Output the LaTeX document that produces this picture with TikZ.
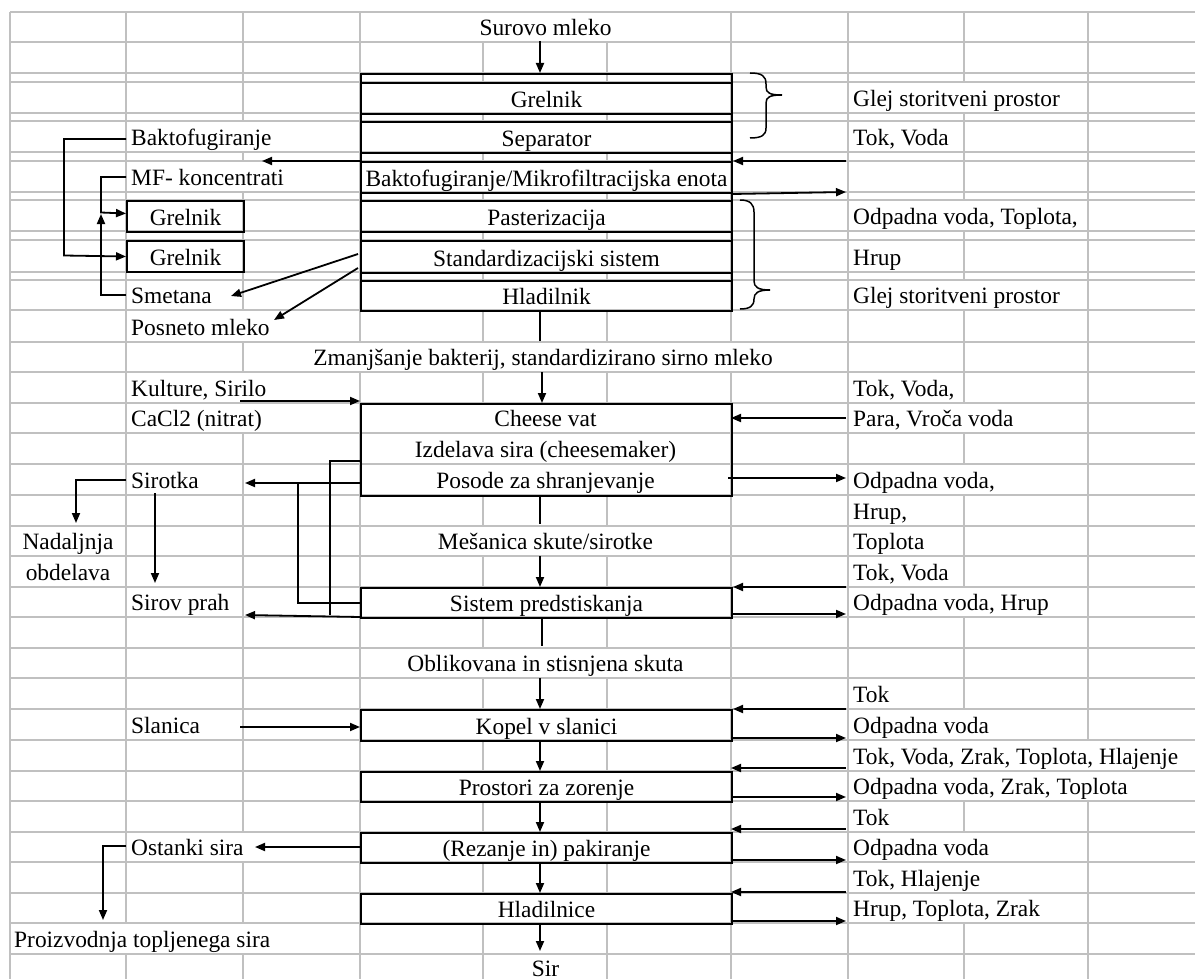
\documentclass[tikz,border=0pt]{standalone}
\usepackage{fontspec}
\setmainfont{Liberation Serif}
\usetikzlibrary{arrows.meta}
\definecolor{gridgray}{RGB}{192,192,192}
\newcommand{\cellfont}{\fontsize{23.4}{28}\selectfont}
\begin{document}
\begin{tikzpicture}[x=1pt,y=-1pt,
  every node/.style={font=\cellfont, inner sep=0pt},
  gridline/.style={draw=gridgray, line width=1.3pt},
  procbox/.style={draw, line width=2pt, minimum width=371pt, text height=#1, text depth=6.5pt, anchor=north west},
  procbox/.default=24.5pt,
  sidebox/.style={draw, line width=2pt, minimum width=117pt, text height=24.5pt, text depth=6.5pt, anchor=north west},
  txt/.style={anchor=base west},
  mid/.style={anchor=base},
  flow/.style={draw, line width=1.8pt, -{Triangle[length=10pt,width=8pt]}},
  link/.style={draw, line width=1.8pt},
  brace/.style={draw, line width=1.5pt}]

\clip (0,0) rectangle (1195,979);
\fill[white] (0,0) rectangle (1195,979);

% spreadsheet grid: row lines
\foreach \y in {12,42,73,82,113,121,152,161,192,200,231,240,272,280,310,342,372,403,433,464,495,526,556,587,617,648,678,709,740,771,801,832,862,893,923,954}
  \draw[gridline] (10,\y) -- (1195,\y);

% column lines, row by row (hidden where text overflows or cells are merged)
\foreach \t/\b/\xs in {
  12/42/{10,126,243,360,731,848,964,1088},
  42/73/{10,126,243,360,483,607,731,848,964,1088},
  73/82/{10,126,243,360,483,607,731,848,964,1088},
  82/113/{10,126,243,360,731,848,1088},
  113/121/{10,126,243,360,483,607,731,848,964,1088},
  121/152/{10,126,360,731,848,964,1088},
  152/161/{10,126,243,360,483,607,731,848,964,1088},
  161/192/{10,126,360,731,848,964,1088},
  192/200/{10,126,243,360,483,607,731,848,964,1088},
  200/231/{10,126,243,360,731,848,1088},
  231/240/{10,126,243,360,483,607,731,848,964,1088},
  240/272/{10,126,243,360,731,848,964,1088},
  272/280/{10,126,243,360,483,607,731,848,964,1088},
  280/310/{10,126,243,360,731,848,1088},
  310/342/{10,126,360,483,607,731,848,964,1088},
  342/372/{10,126,243,848,964,1088},
  372/403/{10,126,360,483,607,731,848,964,1088},
  403/433/{10,126,360,731,848,1088},
  433/464/{10,126,243,360,731,848,964,1088},
  464/495/{10,126,243,360,731,848,1088},
  495/526/{10,126,243,360,483,607,731,848,964,1088},
  526/556/{10,126,243,360,731,848,964,1088},
  556/587/{10,126,243,360,483,607,731,848,964,1088},
  587/617/{10,126,243,360,731,848,1088},
  617/648/{10,126,243,360,483,607,731,848,964,1088},
  648/678/{10,126,243,360,731,848,964,1088},
  678/709/{10,126,243,360,483,607,731,848,964,1088},
  709/740/{10,126,243,360,731,848,1088},
  740/771/{10,126,243,360,483,607,731,848},
  771/801/{10,126,243,360,731,848},
  801/832/{10,126,243,360,483,607,731,848,964,1088},
  832/862/{10,126,360,731,848,1088},
  862/893/{10,126,243,360,483,607,731,848,1088},
  893/923/{10,126,243,360,731,848,1088},
  923/954/{10,360,483,607,731,848,964,1088},
  954/979/{10,126,243,360,483,607,731,848,964,1088}}
  {\foreach \x in \xs {\draw[gridline] (\x,\t) -- (\x,\b);}}

% ---------- milk treatment block ----------
\node[draw, line width=2pt, minimum width=371pt, minimum height=237pt, anchor=north west] (frame) at (360,73) {};
\node[procbox] (grel) at (360,82) {Grelnik};
\node[procbox] (sep) at (360,121) {Separator};
\node[procbox] (bakto) at (360,161) {Baktofugiranje/Mikrofiltracijska enota};
\node[procbox] (past) at (360,200) {Pasterizacija};
\node[procbox=25.5pt] (std) at (360,240) {Standardizacijski sistem};
\node[procbox=23.5pt] (hlad) at (360,280) {Hladilnik};

\node[sidebox] (grelA) at (126,200) {Grelnik};
\node[sidebox] (grelB) at (126,240) {Grelnik};

\node[mid] (surovo) at (545.5,35.5) {Surovo mleko};

\node[txt] (lbBakto) at (131,145.5) {Baktofugiranje};
\node[txt] (lbMF) at (131,185.5) {MF- koncentrati};
\node[txt] (lbSmet) at (131,303.5) {Smetana};
\node[txt] (lbPosn) at (131,335.5) {Posneto mleko};

\node[txt] (rGlejA) at (853,106.5) {Glej storitveni prostor};
\node[txt] (rTokA) at (853,145.5) {Tok, Voda};
\node[txt] (rOdpA) at (853,224.5) {Odpadna voda, Toplota,};
\node[txt] (rHrupA) at (853,265.5) {Hrup};
\node[txt] (rGlejB) at (853,303.5) {Glej storitveni prostor};

% braces
\draw[brace] (750,73) .. controls (762,73) and (766,76) .. (766,84) -- (766,87)
  .. controls (766,93) and (770,95) .. (782,95)
  .. controls (770,95) and (766,97) .. (766,103) -- (766,128)
  .. controls (766,135) and (762,138) .. (750,138);
\draw[brace] (740,200) .. controls (750,200) and (754,204) .. (754,212) -- (754,281)
  .. controls (754,287) and (758,290) .. (770,290)
  .. controls (758,290) and (754,293) .. (754,299)
  .. controls (754,306) and (750,309) .. (740,309);

% connectors of the upper block
\draw[flow] (540,41) -- (frame.north -| 540,0);
\draw[flow] (846,161) -- (bakto.north east);
\draw[flow] (bakto.south east) -- (846,192);
\draw[flow] (bakto.north west) -- (262,161);
\draw[flow] (126,139) -- (64,139) -- (64,255.5) -- (grelB.west);
\draw[flow] (126,177) -- (101,177) -- (101,212.5) -- ([yshift=3pt]grelA.west);
\draw[flow] (126,295) -- (101,295) -- (101,214);
\draw[flow] (358,254) -- (231,296);
\draw[flow] (358,268) -- (274,320);
\draw[link] (hlad.south -| 540,0) -- (540,341);

% ---------- cheese making ----------
\node[mid] (zmanj) at (543,365.5) {Zmanjšanje bakterij, standardizirano sirno mleko};
\node[draw, line width=2pt, minimum width=371pt, minimum height=92pt, anchor=north west] (vat) at (360,403) {};
\node[mid] (vatA) at (545.5,426.5) {Cheese vat};
\node[mid] (vatB) at (545.5,457.5) {Izdelava sira (cheesemaker)};
\node[mid] (vatC) at (545.5,488.5) {Posode za shranjevanje};
\node[mid] (mesan) at (545.5,549.5) {Mešanica skute/sirotke};
\node[procbox=23.5pt] (sist) at (360,587) {Sistem predstiskanja};

\node[txt] (lbKult) at (131,396.5) {Kulture, Sirilo};
\node[txt] (lbCa) at (131,426.5) {CaCl2 (nitrat)};
\node[txt] (lbSir) at (131,488.5) {Sirotka};
\node[txt] (lbPrah) at (131,610.5) {Sirov prah};
\node[mid] (lbNad) at (68,549.5) {Nadaljnja};
\node[mid] (lbObd) at (68,580.5) {obdelava};

\node[txt] (rTokB) at (853,396.5) {Tok, Voda,};
\node[txt] (rPara) at (853,426.5) {Para, Vroča voda};
\node[txt] (rOdpB) at (853,488.5) {Odpadna voda,};
\node[txt] (rHrupB) at (853,519.5) {Hrup,};
\node[txt] (rTopl) at (853,549.5) {Toplota};
\node[txt] (rTokC) at (853,580.5) {Tok, Voda};
\node[txt] (rOdpC) at (853,610.5) {Odpadna voda, Hrup};

\draw[flow] (542,372) -- (vat.north -| 542,0);
\draw[flow] (240,401) -- (360,401);
\draw[flow] (846,418) -- (731,418);
\draw[flow] (728,478) -- (846,478);
\draw[flow] (360,483) -- (245,483);
\draw[link] (360,461) -- (330,461) -- (330,615);
\draw[link] (360,603) -- (298,603) -- (298,483);
\draw[flow] (sist.south west) ++(0,-2) -- (245,615);
\draw[flow] (126,480) -- (76,480) -- (76,523);
\draw[flow] (155,493) -- (155,583);
\draw[link] (vat.south -| 540,0) -- (540,524);
\draw[flow] (540,556) -- (sist.north -| 540,0);
\draw[flow] (846,587) -- (sist.north east);
\draw[flow] (731,614) -- (846,614);
\draw[link] (sist.south -| 542,0) -- (542,646);

% ---------- brining, ripening, packing ----------
\node[mid] (oblik) at (545.5,671.5) {Oblikovana in stisnjena skuta};
\node[procbox] (kopel) at (360,709) {Kopel v slanici};
\node[procbox=23.5pt] (zor) at (360,771) {Prostori za zorenje};
\node[procbox=23.5pt] (pak) at (360,832) {(Rezanje in) pakiranje};
\node[procbox=23.5pt] (hlc) at (360,893) {Hladilnice};
\node[mid] (sir) at (545.5,976) {Sir};

\node[txt] (lbSlan) at (131,733.5) {Slanica};
\node[txt] (lbOst) at (131,855.5) {Ostanki sira};
\node[txt] (lbProiz) at (14,947.5) {Proizvodnja topljenega sira};

\node[txt] (rTokD) at (853,702.5) {Tok};
\node[txt] (rOdpD) at (853,733.5) {Odpadna voda};
\node[txt] (rTokE) at (853,764.5) {Tok, Voda, Zrak, Toplota, Hlajenje};
\node[txt] (rOdpE) at (853,794.5) {Odpadna voda, Zrak, Toplota};
\node[txt] (rTokF) at (853,825.5) {Tok};
\node[txt] (rOdpF) at (853,855.5) {Odpadna voda};
\node[txt] (rTokG) at (853,886.5) {Tok, Hlajenje};
\node[txt] (rHrupG) at (853,916.5) {Hrup, Toplota, Zrak};

\draw[flow] (540,678) -- (kopel.north -| 540,0);
\draw[flow] (240,727) -- (360,727);
\draw[flow] (846,709) -- (kopel.north east);
\draw[flow] (731,738) -- (846,738);
\draw[flow] (kopel.south -| 540,0) -- (zor.north -| 540,0);
\draw[flow] (846,768) -- (731,768);
\draw[flow] (731,797) -- (846,797);
\draw[flow] (zor.south -| 540,0) -- (pak.north -| 540,0);
\draw[flow] (846,829) -- (731,829);
\draw[flow] (731,860) -- (846,860);
\draw[flow] (pak.south -| 540,0) -- (hlc.north -| 540,0);
\draw[flow] (846,892) -- (731,892);
\draw[flow] (731,921) -- (846,921);
\draw[flow] (hlc.south -| 540,0) -- (540,951);
\draw[flow] (360,847) -- (255,847);
\draw[flow] (126,846) -- (103,846) -- (103,920);
\end{tikzpicture}
\end{document}
